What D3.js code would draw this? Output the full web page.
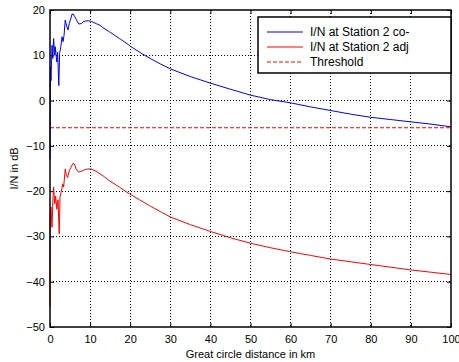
<!DOCTYPE html>
<html><head><meta charset="utf-8">
<script src="https://cdn.jsdelivr.net/npm/d3@7"></script>
<style>body{margin:0;background:#fff}svg{display:block}text{font-family:"Liberation Sans",Arial,sans-serif}</style>
</head><body>
<script>
const xTicks = [0,10,20,30,40,50,60,70,80,90,100];
const yTicks = [-50,-40,-30,-20,-10,0,10,20];
const seriesNames = ["I/N at Station 2 co-","I/N at Station 2 adj","Threshold"];
const threshold = -6;
const coDist = [0,0.1,0.25,0.5,0.7,0.9,1.2,1.3,1.7,1.9,2.2,2.4,2.7,3.0,3.25,3.5,3.8,4.2,4.5,4.8,5.2,5.5,5.8,6.2,6.7,7.2,7.8,8.3,9,9.7,10.3,11.5,12.5,13.2,14.8,15,17.3,17.5,19.8,20,22.5,25,27.5,30,35,40,45,50,55,60,65,70,75,80,85,90,95,100];
const coVal  = [-13,7.4,4.4,12.2,9.3,13.7,10,11.9,8.5,10.7,3.3,10.4,11.9,14.1,13,14.4,17.8,16.3,15.6,17,18.1,19.1,19.1,18.5,17.6,16.9,17,17.4,17.6,17.6,17.5,17,16.6,16.1,15.2,15.1,13.7,13.6,12.2,12.0,10.6,9.3,8.1,7.0,5.3,3.85,2.5,1.2,0.2,-0.5,-1.4,-2.2,-3.0,-3.7,-4.2,-4.7,-5.2,-5.8];
const adjDist = [0,0.05,0.25,0.5,0.75,0.9,1.2,1.4,1.7,2.0,2.3,2.5,2.8,3.2,3.4,3.8,4.1,4.4,4.8,5.2,5.7,6.1,6.5,7.1,7.8,8.6,9.4,10.2,11.5,13.2,14.8,17.3,19.8,22.3,24.8,27.5,30,35,40,45,50,55,60,65,70,75,80,85,90,95,100];
const adjVal  = [-45.5,-25.4,-23.5,-28,-21.3,-19.1,-22.8,-21.1,-24,-21.9,-29.4,-21.3,-20.2,-18.4,-19.1,-15.1,-16.6,-17,-15.5,-14.8,-13.9,-14,-15.1,-15.8,-15.6,-15.3,-15.1,-15.1,-15.6,-16.6,-17.7,-19.1,-20.6,-21.9,-23.2,-24.5,-25.7,-27.4,-28.9,-30.3,-31.5,-32.5,-33.4,-34.2,-35.0,-35.6,-36.2,-36.8,-37.4,-37.9,-38.4];

const W=459,H=362, L=50,R=451,T=10,B=327;
const svg=d3.select("body").append("svg").attr("width",W).attr("height",H);
const x=d3.scaleLinear().domain([0,100]).range([L,R]);
const y=d3.scaleLinear().domain([-50,20]).range([B,T]);

// grid
const g=svg.append("g");
g.selectAll(".gx").data(xTicks.slice(1,-1)).enter().append("line")
 .attr("x1",d=>x(d)).attr("x2",d=>x(d)).attr("y1",T).attr("y2",B)
 .attr("stroke","#000").attr("stroke-width",1).attr("stroke-dasharray","1,2").attr("shape-rendering","crispEdges");
g.selectAll(".gy").data(yTicks.slice(1,-1)).enter().append("line")
 .attr("y1",d=>y(d)).attr("y2",d=>y(d)).attr("x1",L).attr("x2",R)
 .attr("stroke","#000").attr("stroke-width",1).attr("stroke-dasharray","1,2").attr("shape-rendering","crispEdges");

// axes with inward ticks
const fs=11;
const ax=svg.append("g").attr("transform",`translate(0,${B})`).call(d3.axisBottom(x).tickValues(xTicks).tickSizeInner(-4).tickSizeOuter(0).tickPadding(8));
const axT=svg.append("g").attr("transform",`translate(0,${T})`).call(d3.axisTop(x).tickValues(xTicks).tickSizeInner(-4).tickSizeOuter(0).tickFormat(""));
const ay=svg.append("g").attr("transform",`translate(${L},0)`).call(d3.axisLeft(y).tickValues(yTicks).tickSizeInner(-4).tickSizeOuter(0).tickPadding(5));
const ayR=svg.append("g").attr("transform",`translate(${R},0)`).call(d3.axisRight(y).tickValues(yTicks).tickSizeInner(-4).tickSizeOuter(0).tickFormat(""));
[ax,axT,ay,ayR].forEach(a=>{a.select(".domain").remove();a.selectAll("line").attr("stroke","#000");a.selectAll("text").attr("font-size",fs).attr("fill","#000").attr("font-family","Liberation Sans, Arial, sans-serif");});

// series
const line=d3.line().x(d=>x(d[0])).y(d=>y(d[1]));
svg.append("path").datum(coDist.map((d,i)=>[d,coVal[i]])).attr("d",line).attr("fill","none").attr("stroke","#0000ff").attr("stroke-width",1);
svg.append("path").datum(adjDist.map((d,i)=>[d,adjVal[i]])).attr("d",line).attr("fill","none").attr("stroke","#ff0000").attr("stroke-width",1);
svg.append("line").attr("x1",x(0)).attr("x2",x(100)).attr("y1",y(threshold)).attr("y2",y(threshold)).attr("stroke","#ff0000").attr("stroke-width",1).attr("stroke-dasharray","4,2");

// box
svg.append("rect").attr("x",L).attr("y",T).attr("width",R-L).attr("height",B-T).attr("fill","none").attr("stroke","#000").attr("stroke-width",1.5);

// labels
svg.append("text").attr("x",(L+R)/2).attr("y",358).attr("text-anchor","middle").attr("font-size",fs).text("Great circle distance in km");
svg.append("text").attr("transform",`translate(18,${(T+B)/2}) rotate(-90)`).attr("text-anchor","middle").attr("font-size",fs).text("I/N in dB");

// legend
const lg=svg.append("g");
lg.append("rect").attr("x",258).attr("y",17).attr("width",193).attr("height",56).attr("fill","#fff").attr("stroke","#000").attr("stroke-width",1.5);
const cols=["#0000ff","#ff0000","#ff0000"], dashes=[null,null,"4,2"];
seriesNames.forEach((n,i)=>{
  const yy=32+i*15;
  lg.append("line").attr("x1",267).attr("x2",303).attr("y1",yy).attr("y2",yy).attr("stroke",cols[i]).attr("stroke-width",1).attr("stroke-dasharray",dashes[i]);
  lg.append("text").attr("x",310).attr("y",yy+4).attr("font-size",fs+1).text(n);
});
</script>
</body></html>
